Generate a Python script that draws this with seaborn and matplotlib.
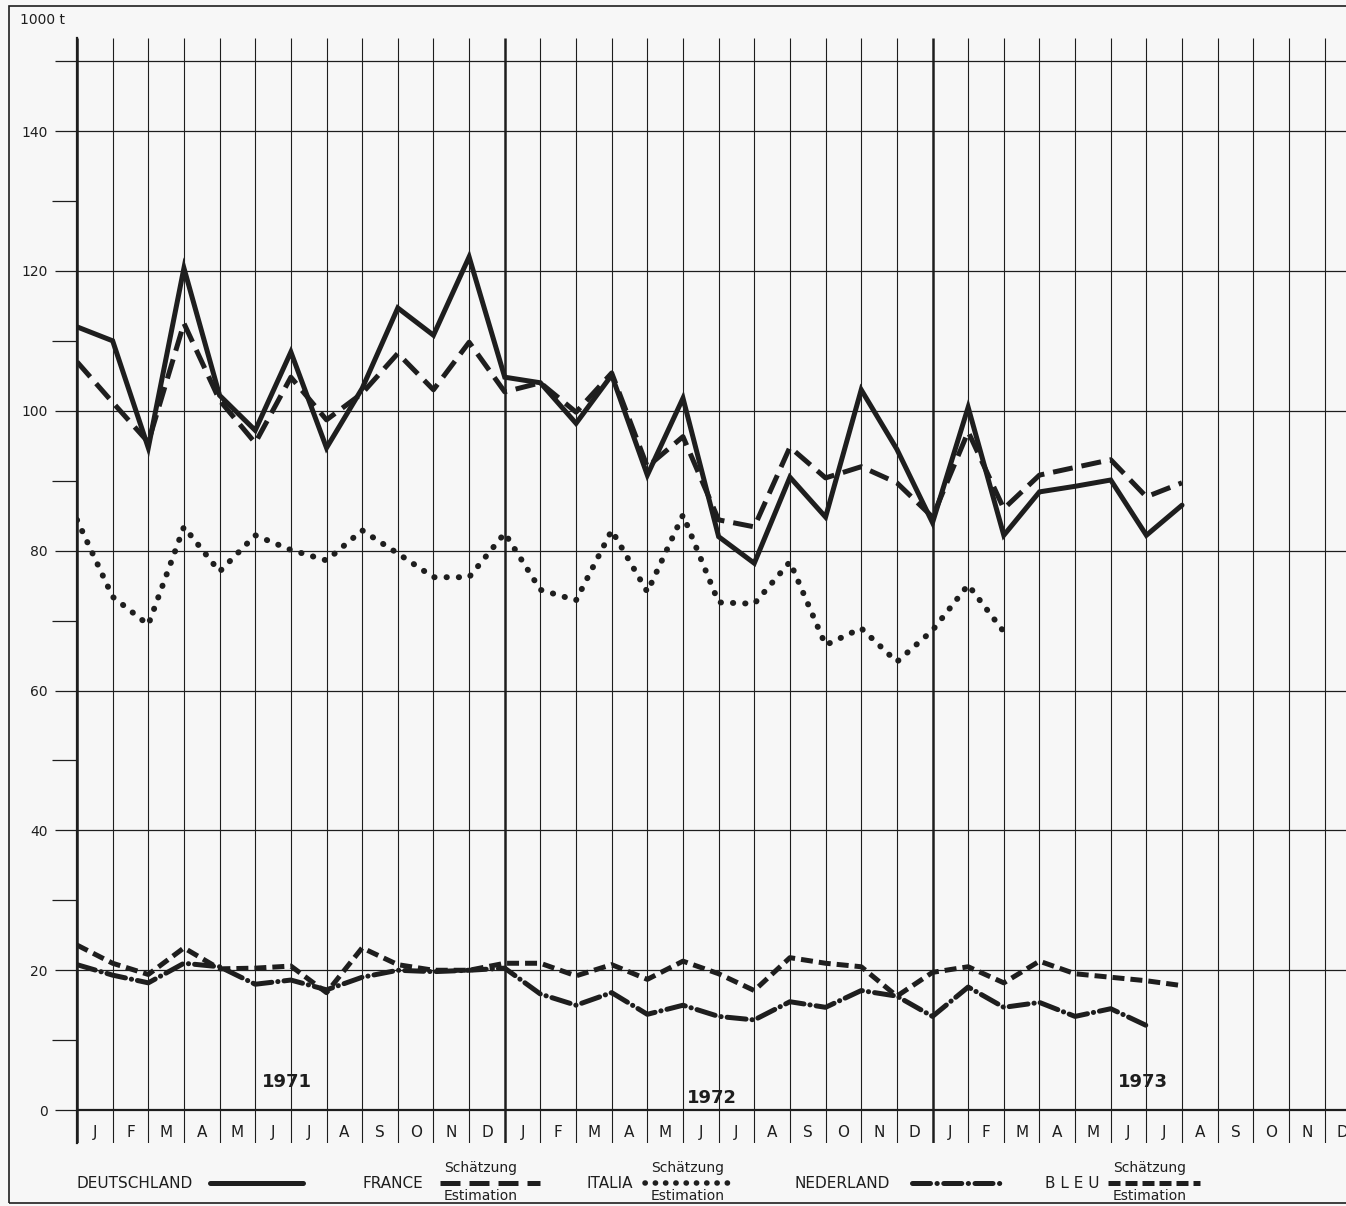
import matplotlib.pyplot as plt
import numpy as np
import seaborn as sns
from matplotlib.lines import Line2D
from matplotlib.patches import Rectangle

# monthly values, 1000 t (Jan 1971 onwards)
deutschland = [112.0, 110.0, 94.7, 120.4, 102.2, 97.2, 108.4, 94.7, 103.2, 114.7,
               110.8, 122.0, 104.8, 104.0, 98.2, 105.1, 90.8, 101.8, 82.0, 78.2,
               90.5, 84.8, 103.0, 94.5, 84.0, 100.5, 82.2, 88.4, 89.2, 90.1,
               82.2, 86.5]
france = [107.0, 101.2, 95.5, 112.5, 101.5, 95.4, 104.8, 98.7, 102.5, 108.2,
          103.0, 109.8, 102.7, 104.0, 99.8, 105.4, 92.0, 96.3, 84.4, 83.4,
          94.8, 90.4, 92.0, 89.7, 84.8, 97.0, 86.0, 90.8, 91.9, 93.0,
          87.7, 89.7]
italia = [84.4, 73.4, 69.4, 83.4, 77.0, 82.2, 80.1, 78.6, 82.9, 79.6,
          76.2, 76.2, 82.5, 74.4, 72.9, 82.9, 74.1, 85.1, 72.6, 72.4,
          78.4, 66.5, 68.9, 64.1, 68.6, 75.1, 68.4]
nederland = [20.8, 19.3, 18.2, 21.0, 20.5, 18.0, 18.6, 17.2, 19.0, 20.0,
             19.8, 20.0, 20.3, 16.6, 15.0, 16.8, 13.7, 15.0, 13.4, 12.9,
             15.5, 14.7, 17.1, 16.3, 13.4, 17.6, 14.7, 15.4, 13.4, 14.5,
             12.1]
bleu = [23.6, 21.0, 19.4, 23.2, 20.2, 20.3, 20.6, 16.8, 23.2, 20.8,
        20.0, 20.0, 21.0, 21.0, 19.2, 20.8, 18.7, 21.3, 19.5, 17.1,
        21.8, 21.0, 20.5, 16.3, 19.7, 20.5, 18.2, 21.3, 19.5, 19.0,
        18.5, 17.8]

month_labels = ["J", "F", "M", "A", "M", "J", "J", "A", "S", "O", "N", "D"] * 3
years = ["1971", "1972", "1973"]
year_pos = [(5.9, 4.0), (17.8, 1.7), (29.9, 4.0)]
y_major = [0, 20, 40, 60, 80, 100, 120, 140, 150]
y_minor = [10, 30, 50, 70, 90, 110, 130]

INK = "#1e1e1e"
BG = "#f7f7f7"
W, H = 1346, 1206

sns.set_theme(style="white")
plt.rcParams["font.family"] = ["DejaVu Sans"]

fig = plt.figure(figsize=(W / 100, H / 100), dpi=100, facecolor=BG)
ax = fig.add_axes([77 / W, (H - 1143) / H, (W - 77) / W, (1143 - 38) / H])
ax.set_facecolor("none")
ax.set_xlim(0, 35.6)
ax.set_ylim(-4.7, 153.3)


def px(x, y):
    return x / W, 1 - y / H


# grid
for i in range(37):
    ax.vlines(i, -4.7, 153.3, color=INK, lw=1.8 if i % 12 == 0 else 0.8, zorder=1)
for v in y_major[1:]:
    ax.axhline(v, color=INK, lw=0.9, zorder=1)
ax.axhline(0, color=INK, lw=1.6, zorder=1)

ax.set_xticks([])
ax.set_yticks(y_major)
ax.set_yticklabels([str(v) if v != 150 else "" for v in y_major])
ax.set_yticks(y_minor, minor=True)
ax.tick_params(axis="y", which="major", direction="out", length=16, width=0.9,
               color=INK, pad=5, labelsize=10, labelcolor=INK, left=True)
ax.tick_params(axis="y", which="minor", direction="out", length=18, width=0.9,
               color=INK, left=True)
for s in ["top", "right", "bottom"]:
    ax.spines[s].set_visible(False)
ax.spines["left"].set_linewidth(1.6)
ax.spines["left"].set_color(INK)

# series
styles = [
    (deutschland, "-", "butt", 3.6),
    (france, (0, (4.0, 1.8)), "butt", 3.6),
    (italia, (0, (0.05, 2.0)), "round", 4.3),
    (nederland, (0, (3.8, 1.2, 0.05, 1.2)), "round", 3.6),
    (bleu, (0, (2.4, 1.2)), "butt", 3.6),
]
for vals, ls, cap, lw in styles:
    sns.lineplot(x=np.arange(len(vals)), y=vals, ax=ax, color=INK, lw=lw,
                 linestyle=ls, dash_capstyle=cap, solid_joinstyle="miter",
                 legend=False, zorder=3)

# month and year labels
for i, m in enumerate(month_labels):
    ax.text(i + 0.5, -3.2, m, ha="center", va="center", fontsize=11, color=INK)
for y, (xp, yp) in zip(years, year_pos):
    ax.text(xp, yp, y, ha="center", va="center", fontsize=13, fontweight="bold",
            color=INK)

fig.text(*px(20, 20), "1000 t", ha="left", va="center", fontsize=10, color=INK)

# legend
ly = 1183
fig.text(*px(76, ly), "DEUTSCHLAND", ha="left", va="center", fontsize=11, color=INK)
fig.text(*px(363, ly), "FRANCE", ha="left", va="center", fontsize=11, color=INK)
fig.text(*px(587, ly), "ITALIA", ha="left", va="center", fontsize=11, color=INK)
fig.text(*px(795, ly), "NEDERLAND", ha="left", va="center", fontsize=11, color=INK)
fig.text(*px(1045, ly), "B L E U", ha="left", va="center", fontsize=11, color=INK)

samples = [
    (210, 303, "-", "butt", 3.6),
    (440, 540, (0, (4.0, 1.8)), "butt", 3.6),
    (645, 735, (0, (0.05, 1.8)), "round", 4.0),
    (912, 1003, (0, (3.6, 1.3, 0.05, 1.3)), "round", 3.6),
    (1108, 1200, (0, (2.4, 1.0)), "butt", 3.6),
]
for x0, x1, ls, cap, lw in samples:
    (a, b), (c, _) = px(x0, ly), px(x1, ly)
    fig.add_artist(Line2D([a, c], [b, b], color=INK, lw=lw, linestyle=ls,
                          dash_capstyle=cap))

for xc in [481, 688, 1150]:
    fig.text(*px(xc, 1168), "Schätzung", ha="center", va="center", fontsize=10,
             color=INK)
    fig.text(*px(xc, 1196), "Estimation", ha="center", va="center", fontsize=10,
             color=INK)

# frame
fig.add_artist(Rectangle(px(9, 1203), 1.2, (1203 - 6) / H, fill=False,
                         edgecolor=INK, lw=1.2, transform=fig.transFigure))

fig.savefig("out.png", dpi=100, facecolor=BG)
